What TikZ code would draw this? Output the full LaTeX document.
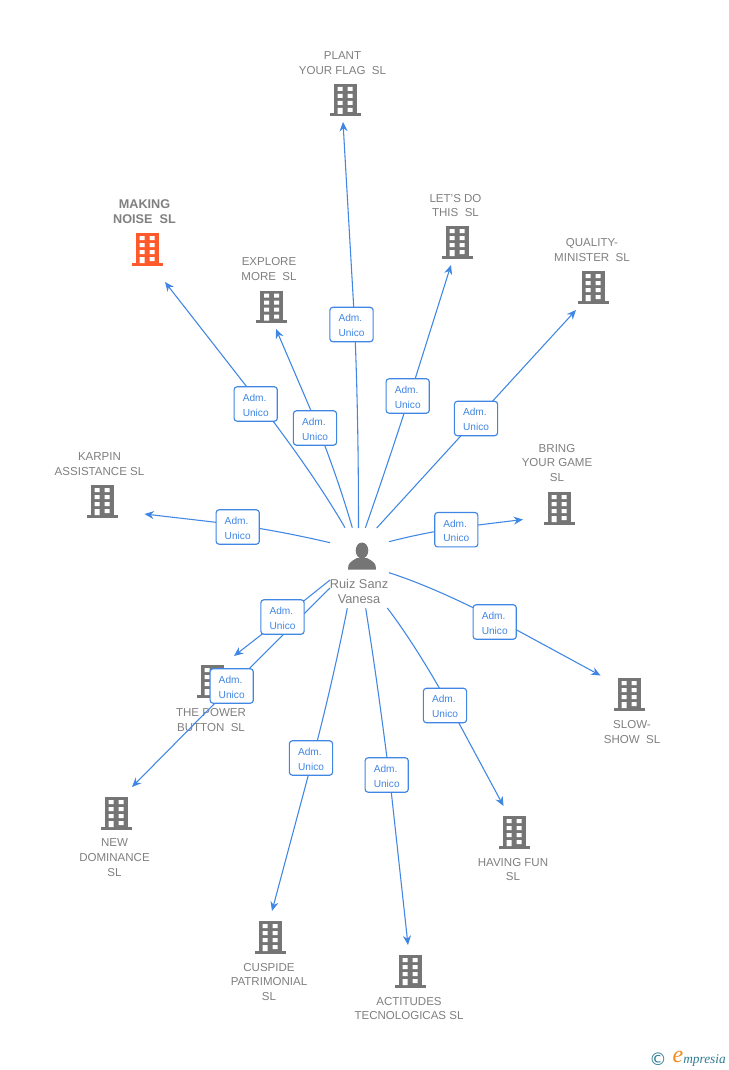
\documentclass[tikz,border=0pt]{standalone}
\usepackage{fontspec}
\setmainfont{Liberation Sans}
\newfontfamily\serifit{Liberation Serif}
\newfontfamily\dejavu{DejaVu Sans}
\usetikzlibrary{arrows.meta,calc}
\definecolor{linkblue}{HTML}{4086E4}
\definecolor{txtgrey}{HTML}{808080}
\definecolor{iconorange}{HTML}{FF5A2B}
\definecolor{icongrey}{HTML}{757575}
\definecolor{logoteal}{HTML}{2F7C94}
\definecolor{logoorange}{HTML}{F28C1E}
\tikzset{
  x=0.75pt,y=-0.75pt,
  lbl/.style={font=\fontsize{8.65}{11.2}\selectfont,text=txtgrey,align=center,inner sep=0pt},
  lblmain/.style={font=\fontsize{9.5}{11.2}\selectfont\bfseries,text=txtgrey,align=center,inner sep=0pt},
  lblperson/.style={font=\fontsize{9.6}{10.9}\selectfont,text=txtgrey,align=center,inner sep=0pt},
  admbox/.style={draw=linkblue,line width=0.85pt,fill=white,rounded corners=2.2pt,minimum width=32.4pt,minimum height=25.8pt,inner sep=0pt,font=\fontsize{7.6}{11.1}\selectfont,text=linkblue,align=left},
  wire/.style={draw=linkblue,line width=0.8pt},
  tip/.style={wire,-{Stealth[length=7pt,width=6pt]}},
  pics/bldg/.style={code={
    \fill[#1] (-11.5,-16) rectangle (11.5,14);
    \fill[#1] (-15.5,13.5) rectangle (15.5,16.5);
    \fill[white] (-7.5,-13) rectangle (-2.5,-9) (2.5,-13) rectangle (7.5,-9)
      (-7.5,-6) rectangle (-2.5,-2) (2.5,-6) rectangle (7.5,-2)
      (-7.5,1) rectangle (-2.5,5) (2.5,1) rectangle (7.5,5)
      (-7.5,8) rectangle (-2.5,14) (2.5,8) rectangle (7.5,12);
  }}
}
% name, start, control, box centre, far exit of the box, arrow end
\newcommand{\conn}[6]{%
  \coordinate (#1s) at (#2);
  \coordinate (#1c) at (#3);
  \coordinate (#1v) at (#5);
  \coordinate (#1e) at (#6);
  \node[admbox] (#1b) at (#4) {\rule{0pt}{7.4pt}Adm.\\Unico};
  \begin{pgfonlayer}{wires}
  \path[wire] (#1s) .. controls ($(#1s)!0.667!(#1c)$) and ($(#1v)!0.667!(#1c)$) .. (#1v);
  \path[tip] (#1v) -- (#1e);
  \end{pgfonlayer}
}
\pgfdeclarelayer{wires}
\pgfdeclarelayer{base}
\pgfsetlayers{base,wires,main}
\begin{document}
\begin{tikzpicture}
\useasboundingbox (0,0) rectangle (728,1070);
\begin{pgfonlayer}{base}
\fill[white] (0,0) rectangle (728,1070);
\pic at (345,100) {bldg=icongrey};
\pic at (457,242) {bldg=icongrey};
\pic at (593,287) {bldg=icongrey};
\pic at (559,508) {bldg=icongrey};
\pic at (629,694) {bldg=icongrey};
\pic at (514,832) {bldg=icongrey};
\pic at (410,971) {bldg=icongrey};
\pic at (270,937) {bldg=icongrey};
\pic at (116,813) {bldg=icongrey};
\pic at (212,681) {bldg=icongrey};
\pic at (102,501) {bldg=icongrey};
\pic at (147,249) {bldg=iconorange};
\pic at (271.5,306.5) {bldg=icongrey};
\fill[icongrey] (362,550.5) ellipse (6.3 and 8);
\fill[icongrey] (348,569.5) .. controls (348,563) and (350,562) .. (357,558) -- (367,558) .. controls (374,562) and (376,563) .. (376,569.5) -- cycle;
\node[lbl] (tplant) at (342.5,63.5) {PLANT\\YOUR FLAG~ SL};
\node[lbl] (tletsdo) at (455.5,205.5) {LET'S DO\\THIS~ SL};
\node[lbl] (tquality) at (592,250) {QUALITY-\\MINISTER~ SL};
\node[lbl] (tbring) at (557,463) {BRING\\YOUR GAME\\SL};
\node[lbl] (tslow) at (632,732) {SLOW-\\SHOW~ SL};
\node[lbl] (thaving) at (513,869.5) {HAVING FUN\\SL};
\node[lbl] (tactit) at (409,1008.5) {ACTITUDES\\TECNOLOGICAS SL};
\node[lbl] (tcusp) at (269,982) {CUSPIDE\\PATRIMONIAL\\SL};
\node[lbl] (tnew) at (114.5,858) {NEW\\DOMINANCE\\SL};
\node[lbl] (tpower) at (211,720) {THE POWER\\BUTTON~ SL};
\node[lbl] (tkarpin) at (99.5,464.5) {KARPIN\\ASSISTANCE SL};
\node[lblmain] (tmaking) at (144.5,212) {MAKING\\NOISE~ SL};
\node[lbl] (texplore) at (269,269) {EXPLORE\\MORE~ SL};
\node[lblperson] (tperson) at (359,591.5) {Ruiz Sanz\\Vanesa};
\end{pgfonlayer}
\conn{a}{358.5,528}{358.5,400}{351.5,324.5}{353.7,307}{343,122}
\conn{b}{365.3,528}{392.6,450}{407.7,396}{415.3,378.3}{451,265}
\conn{c}{376.7,528}{434.7,464.5}{476,418.5}{492.7,401}{576,310}
\conn{d}{389,541.7}{430,531}{456.3,529.7}{478,525}{523,519.5}
\conn{e}{389,572.7}{440,589}{494.7,622}{516.7,630}{600.5,675.5}
\conn{f}{387.3,608}{419.3,650}{445,705.5}{458.7,722.7}{503.5,806}
\conn{g}{365.7,608.3}{378.7,690}{386.7,775}{391.3,792.3}{408,945}
\conn{h}{347.3,608.3}{331.1,690}{311,758}{308.3,775.3}{272,911}
\conn{i}{330,588}{272,645.5}{231.7,686}{215,703}{132,787}
\conn{j}{330,580}{295,608}{282.5,617}{261,635}{234,656}
\conn{k}{330,542.7}{270,528.6}{237.7,527}{216,522.3}{144.5,514}
\conn{l}{345,527.7}{311.7,470}{255.7,404}{246.7,386.7}{165,282}
\conn{m}{352.3,527.7}{335.5,470}{315,428}{310.7,410}{276,329}
\node[font=\dejavu\fontsize{13}{13}\selectfont,text=logoteal,inner sep=0pt] (logoc) at (658,1059) {©};
\node[font=\serifit\itshape\fontsize{18}{18}\selectfont,text=logoorange,inner sep=0pt] (logoe) at (678,1057) {e};
\node[font=\serifit\itshape\fontsize{10}{10}\selectfont,text=logoteal,inner sep=0pt,anchor=west] (logot) at (683,1060) {mpresia};
\end{tikzpicture}
\end{document}
